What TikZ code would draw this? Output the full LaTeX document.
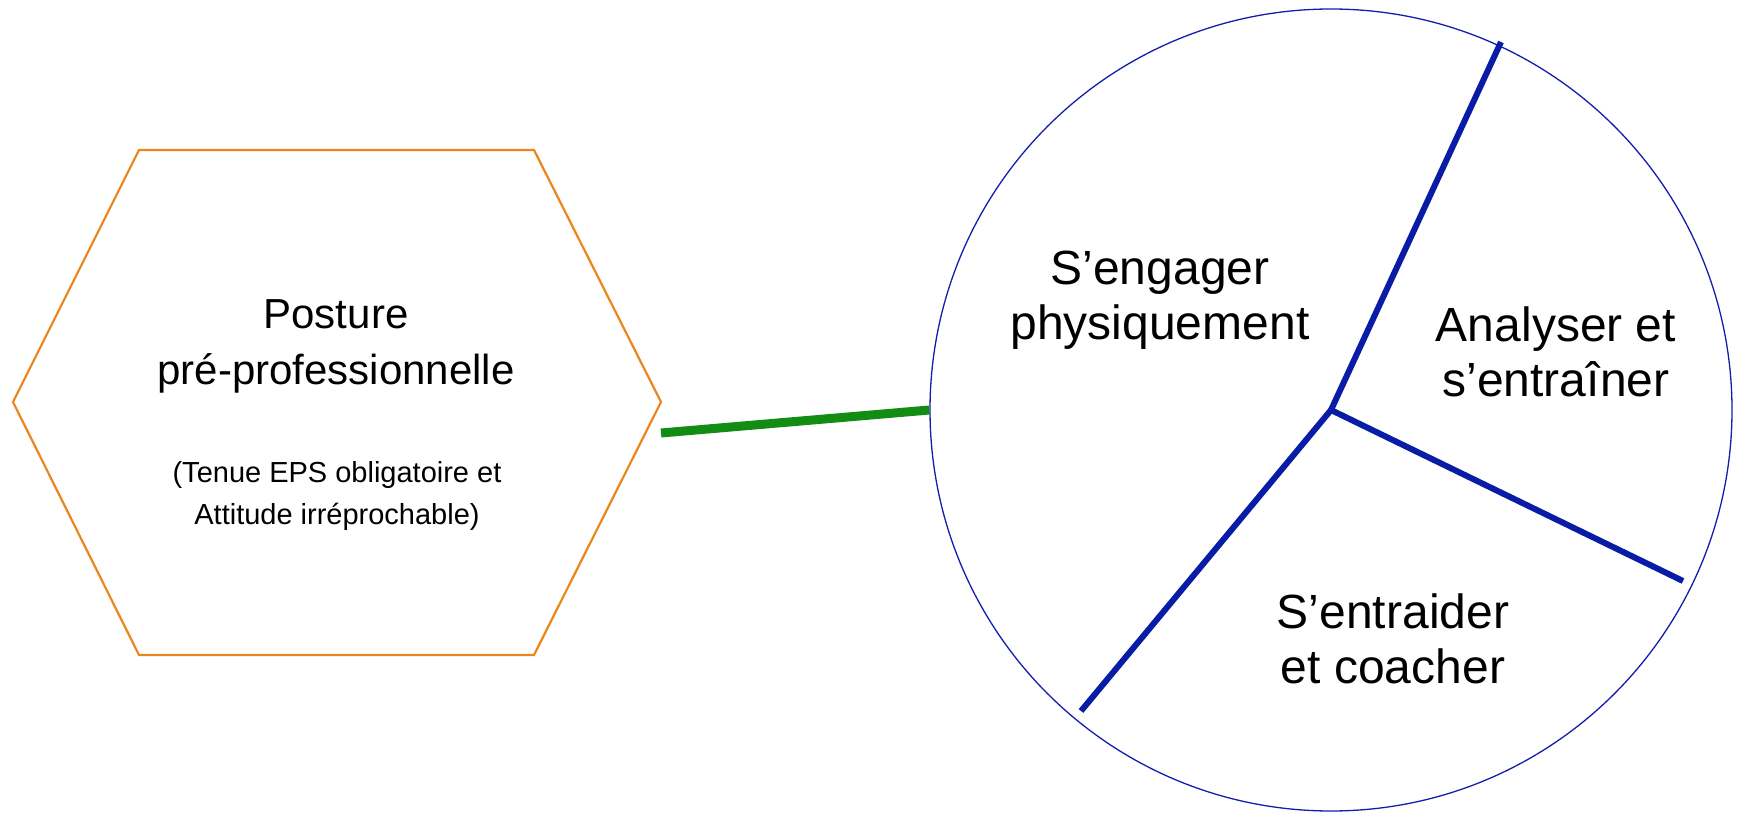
\documentclass[tikz,border=0pt]{standalone}
\usepackage{fontspec}
\setmainfont{Liberation Sans}
\definecolor{hexorange}{RGB}{236,134,28}
\definecolor{rimblue}{RGB}{20,30,170}
\definecolor{spokeblue}{RGB}{8,28,165}
\definecolor{linkgreen}{RGB}{18,140,18}
\tikzset{h/.style = {draw=hexorange, line width=2.2pt, line join=miter},
    c/.style = {circle, draw=rimblue, line width=1.3pt, minimum size=802pt, inner sep=0pt},
    s/.style = {draw=spokeblue, line width=6pt},
    g/.style = {draw=linkgreen, line width=9pt},
    t/.style = {align=center, inner sep=0pt, font=\fontsize{48}{55}\selectfont},
    p/.style = {align=center, inner sep=0pt, font=\fontsize{42}{56}\selectfont},
    q/.style = {align=center, inner sep=0pt, font=\fontsize{29}{42}\selectfont}}

\begin{document}
\begin{tikzpicture}[x=1pt, y=-1pt]
        \useasboundingbox (0,0) rectangle (1741,813);

        % hexagon on the left
        \foreach \n/\x/\y in {h1/13/402, h2/139/150, h3/534/150, h4/661/402, h5/534/655, h6/139/655}
            \coordinate (\n) at (\x,\y);
        \draw[h] (h1) -- (h2) -- (h3) -- (h4) -- (h5) -- (h6) -- cycle;
        \node[p] (post) at (336,346) {Posture\\pré-professionnelle};
        \node[q] (tenue) at (337,496) {(Tenue EPS obligatoire et\\Attitude irréprochable)};

        % circle with three parts
        \node[c] (circ) at (1331,410) {};
        \foreach \n/\x/\y in {e1/1501/42, e2/1683/581, e3/1081/711}
            \coordinate (\n) at (\x,\y);
        \foreach \n in {e1, e2, e3} \draw[s] (circ.center) -- (\n);

        \node[t] (eng) at (1160,300) {S’engager\\physiquement};
        \node[t] (ana) at (1556,352) {Analyser et\\s’entraîner};
        \node[t] (ent) at (1393,639) {S’entraider\\et coacher};

        \coordinate (g1) at (661,433);
        \draw[g] (g1) -- (circ.west);
    \end{tikzpicture}
\end{document}
